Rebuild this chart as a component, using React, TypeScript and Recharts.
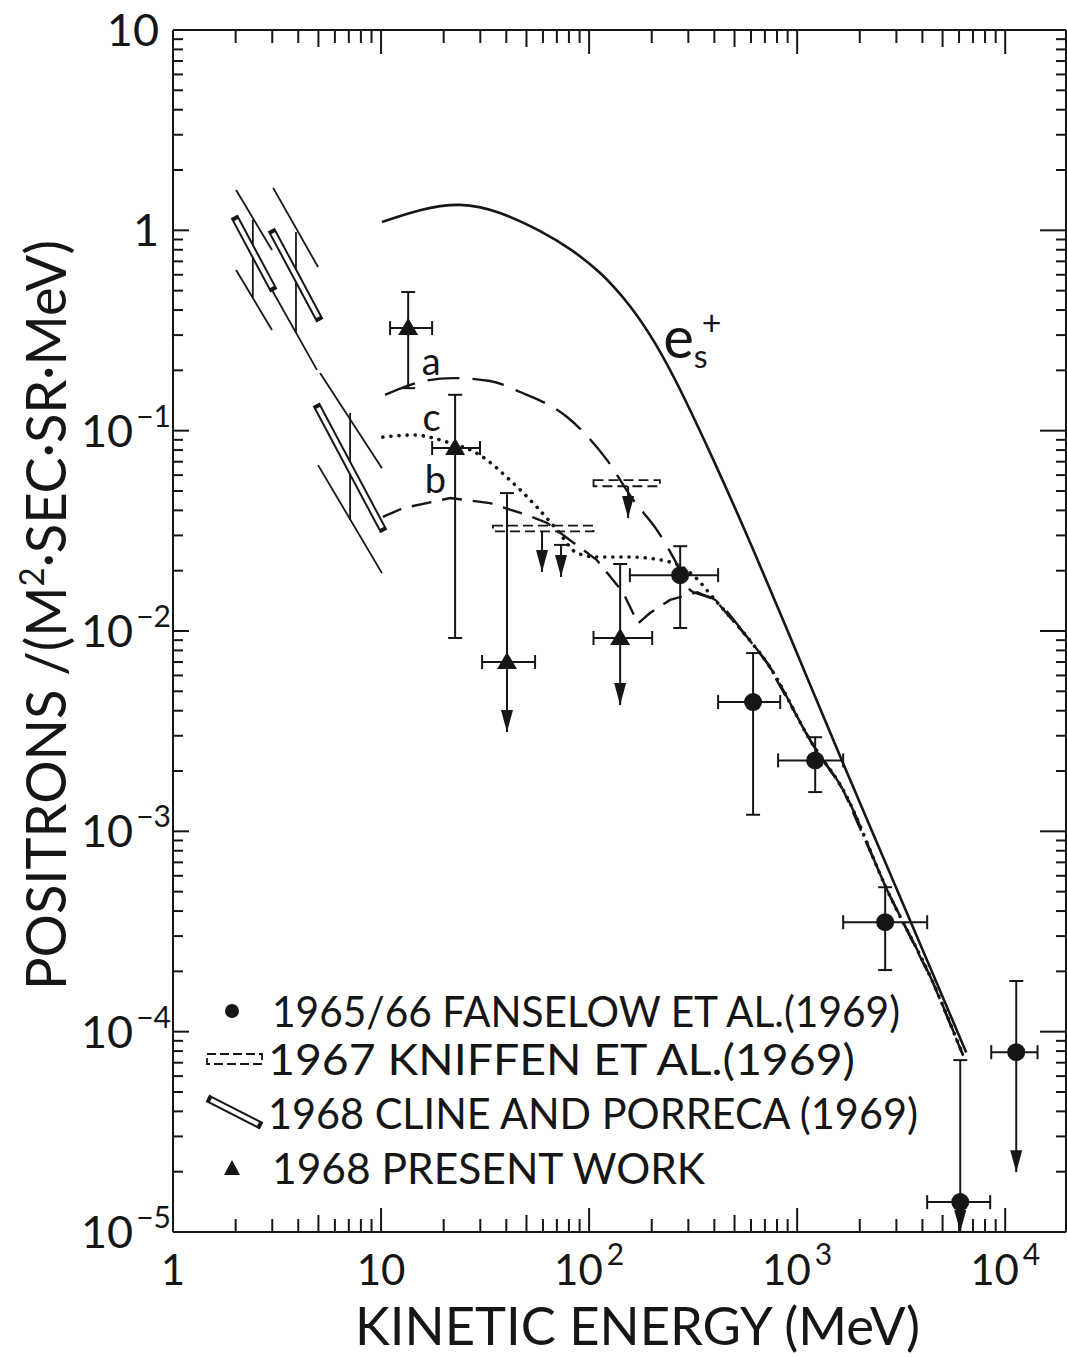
import React from "react";
import {
  ComposedChart,
  Line,
  Scatter,
  XAxis,
  YAxis,
  ErrorBar,
  ReferenceLine,
  ReferenceArea,
  ReferenceDot,
  Legend,
} from "recharts";

const FONT = "Lato, 'Open Sans', 'DejaVu Sans', sans-serif";
const INK = "#161616";

// ---- axes (MeV on x, positrons/(m2 s sr MeV) on y)
const xDecades = [1, 10, 100, 1000, 10000];
const yDecades = [1e-5, 1e-4, 1e-3, 1e-2, 1e-1, 1, 10];
const minorSteps = [2, 3, 4, 5, 6, 7, 8, 9];
const X_MAX = 19600;

// ---- e_s+ curve (solid)
const esE = [10.1, 15.4, 24, 37.3, 58.1, 81, 113, 157, 208, 274, 394, 575, 829, 1092, 1609, 2894, 4504, 6498];
const esF = [1.1, 1.26, 1.34, 1.22, 0.992, 0.806, 0.612, 0.419, 0.272, 0.16, 0.0721, 0.0299, 0.01227, 0.00619, 0.00237, 5.67e-4, 1.93e-4, 7.87e-5];

// common high-energy part of curves a, b, c
const tailE = [403, 575, 718, 1194, 1664, 2710, 4505, 6280];
const tailF = [0.0143, 0.00933, 0.00692, 0.00269, 0.00161, 5.08e-4, 1.75e-4, 7.6e-5];

// curve a (long dashes)
const aE = [10.45, 15.4, 22.2, 33.4, 46.6, 78.4, 122, 163, 212, 274, 306];
const aF = [0.151, 0.175, 0.183, 0.177, 0.156, 0.117, 0.0713, 0.0451, 0.0319, 0.0201, 0.016];

// curve b (dashes, with the dip)
const bE = [10.2, 12.8, 21.5, 33.4, 50.3, 62.9, 81, 109, 146, 172, 196, 245, 331];
const bF = [0.0371, 0.0411, 0.0461, 0.0435, 0.0379, 0.0346, 0.0284, 0.0226, 0.0155, 0.0109, 0.0123, 0.0143, 0.0156];

// curve c (dotted)
const cE = [10.2, 14.3, 20.8, 29.9, 41.7, 56.2, 70.2, 87.5, 109, 157, 245, 316];
const cF = [0.0929, 0.0951, 0.0877, 0.0755, 0.0566, 0.0415, 0.0319, 0.0245, 0.0234, 0.0234, 0.0221, 0.019];

// 1968 present work (triangles)
const triE = [13.5, 22.7, 40.3, 141];
const triF = [0.325, 0.0819, 0.007, 0.00923];
const triELo = [11.05, 17.6, 30.6, 105];
const triEHi = [17.6, 29.9, 55, 201];
const triFLo = [0.163, 0.00923, 0.00313, 0.00427];
const triFHi = [0.492, 0.151, 0.0488, 0.0216];
const triLimit = [false, false, true, true];

// 1965/66 Fanselow et al. (circles)
const fanE = [274, 614, 1221, 2649, 6080, 11300];
const fanF = [0.019, 0.00442, 0.00226, 3.52e-4, 1.41e-5, 7.9e-5];
const fanELo = [157, 417, 810, 1664, 4217, 8570];
const fanEHi = [417, 829, 1664, 4217, 8470, 14300];
const fanFLo = [0.01035, 0.00121, 0.00157, 2.03e-4, 1.0e-5, 1.99e-5];
const fanFHi = [0.0265, 0.00776, 0.00295, 5.26e-4, 7.21e-5, 1.79e-4];
const fanLimit = [false, false, false, false, true, true];

// 1967 Kniffen et al. (hollow dashed boxes + upper-limit arrows)
const knBoxELo = [34.5, 105];
const knBoxEHi = [105, 219];
const knBoxFLo = [0.0314, 0.0528];
const knBoxFHi = [0.0336, 0.0566];
const knArrowE = [59.4, 73.3, 154];
const knArrowFrom = [0.0316, 0.0269, 0.0528];
const knArrowTip = [0.0197, 0.0186, 0.0366];
const knArrowCap = [false, true, false];

// 1968 Cline and Porreca: [E1, F1, E2, F2]
const clineBands = [
  [2.01, 1.126, 2.99, 0.521],
  [3.03, 0.969, 4.98, 0.369],
  [4.98, 0.13, 10.1, 0.0327],
];
const clineUpper = [
  [2.01, 1.59, 2.99, 0.798],
  [3.03, 1.63, 4.98, 0.656],
  [5.09, 0.194, 10.1, 0.065],
];
const clineLower = [
  [2.01, 0.634, 2.99, 0.318],
  [2.99, 0.504, 4.92, 0.201],
  [4.98, 0.0673, 10.1, 0.01945],
];
const clineBars = [
  [2.42, 1.13, 0.464],
  [3.9, 0.98, 0.307],
  [7.1, 0.1225, 0.0358],
];

const legendLabels = [
  "1965/66 FANSELOW ET AL.(1969)",
  "1967 KNIFFEN ET AL.(1969)",
  "1968 CLINE AND PORRECA (1969)",
  "1968 PRESENT WORK",
];

const toPts = (xs: number[], ys: number[]) => xs.map((x, i) => ({ x, y: ys[i] }));

const xTicks = xDecades
  .flatMap((d) => [d, ...minorSteps.map((k) => d * k)])
  .filter((v) => v <= X_MAX);
const yTicks = yDecades.flatMap((d) => (d === 10 ? [d] : [d, ...minorSteps.map((k) => d * k)]));

function isDecade(v: number) {
  const l = Math.log10(v);
  return Math.abs(l - Math.round(l)) < 1e-6;
}
function lead(v: number) {
  return Math.round(v / Math.pow(10, Math.floor(Math.log10(v) + 1e-9)));
}

const txt = { fontFamily: FONT, fontWeight: 400, fill: INK } as const;

function BottomTick({ x, y, payload }: any) {
  const v = payload.value;
  const major = isDecade(v);
  const len = major ? 24 : lead(v) === 5 ? 17 : 13;
  const e = Math.round(Math.log10(v));
  return (
    <g>
      <line x1={x} x2={x} y1={y} y2={y - len} stroke={INK} strokeWidth={2} />
      {major && (
        <text x={x} y={y + 53} textAnchor="middle" fontSize={42} {...txt}>
          {e < 2 ? String(Math.round(v)) : (
            <>
              10<tspan dx={4} dy={-20} fontSize={30}>{e}</tspan>
            </>
          )}
        </text>
      )}
    </g>
  );
}

function TopTick({ x, y, payload }: any) {
  const v = payload.value;
  const len = isDecade(v) ? 24 : lead(v) === 5 ? 17 : 13;
  return <line x1={x} x2={x} y1={y} y2={y + len} stroke={INK} strokeWidth={2} />;
}

function LeftTick({ x, y, payload }: any) {
  const v = payload.value;
  const major = isDecade(v);
  const e = Math.round(Math.log10(v));
  return (
    <g>
      <line x1={x} x2={x + (major ? 16 : 10)} y1={y} y2={y} stroke={INK} strokeWidth={2} />
      {major && (
        <text x={x - (e < 0 ? 2 : 14)} y={y + 16} textAnchor="end" fontSize={45} {...txt}>
          {e === 1 ? "10" : e === 0 ? "1" : (
            <>
              10<tspan dx={3} dy={-20} fontSize={30}>{"\u2212" + -e}</tspan>
            </>
          )}
        </text>
      )}
    </g>
  );
}

function RightTick({ x, y, payload }: any) {
  const v = payload.value;
  const len = isDecade(v) ? 26 : 10;
  return <line x1={x} x2={x - len} y1={y} y2={y} stroke={INK} strokeWidth={2} />;
}

function XTitle({ viewBox }: any) {
  return (
    <text x={viewBox.x + 182} y={viewBox.y + 113} fontSize={52} textLength={565} lengthAdjust="spacingAndGlyphs" {...txt}>
      KINETIC ENERGY (MeV)
    </text>
  );
}

function YTitle({ viewBox }: any) {
  const cx = viewBox.x + 66;
  const cy = viewBox.y + 585;
  return (
    <text x={cx} y={cy} transform={`rotate(-90 ${cx} ${cy})`} textAnchor="middle" fontSize={56} textLength={750} lengthAdjust="spacingAndGlyphs" {...txt}>
      POSITRONS /(M<tspan dy={-22} fontSize={34}>2</tspan>
      <tspan dy={22}>{"\u00B7SEC\u00B7SR\u00B7MeV)"}</tspan>
    </text>
  );
}

function ChartKey() {
  const widths = [628, 587, 650, 433];
  const starts = [77, 73, 73, 77];
  const rows = [31, 79, 133, 188];
  return (
    <svg width={860} height={220} style={{ display: "block", overflow: "visible" }}>
      <circle cx={37} cy={rows[0]} r={7} fill={INK} />
      <rect x={12} y={rows[1] - 5} width={55} height={10} fill="none" stroke={INK} strokeWidth={1.8} strokeDasharray="9 4" />
      <line x1={16} y1={rows[2] - 13} x2={63} y2={rows[2] + 11} stroke={INK} strokeWidth={8} strokeLinecap="square" />
      <line x1={16} y1={rows[2] - 13} x2={63} y2={rows[2] + 11} stroke="#fff" strokeWidth={4} />
      <polygon points={`${29},${rows[3] + 7} ${45},${rows[3] + 7} ${37},${rows[3] - 8}`} fill={INK} />
      {legendLabels.map((t, i) => (
        <text key={t} x={starts[i]} y={rows[i] + 16} fontSize={43} textLength={widths[i]} lengthAdjust="spacingAndGlyphs" {...txt}>
          {t}
        </text>
      ))}
    </svg>
  );
}

const Dot = (p: any) => <circle cx={p.cx} cy={p.cy} r={9} fill={INK} />;
const Tri = (p: any) => (
  <polygon points={`${p.cx - 10},${p.cy + 7} ${p.cx + 10},${p.cy + 7} ${p.cx},${p.cy - 10}`} fill={INK} />
);
const ArrowHead = (p: any) => (
  <polygon points={`${p.cx - 6},${p.cy - 22} ${p.cx + 6},${p.cy - 22} ${p.cx},${p.cy}`} fill={INK} />
);
const Cap = (p: any) => (p.payload.cap ? <line x1={p.cx - 7} x2={p.cx + 7} y1={p.cy} y2={p.cy} stroke={INK} strokeWidth={2} /> : <g />);

function withErrors(E: number[], F: number[], eLo: number[], eHi: number[], fLo: number[], fHi: number[], lim: boolean[]) {
  return E.map((x, i) => ({
    x,
    y: F[i],
    ex: [x - eLo[i], eHi[i] - x],
    ey: [lim[i] ? 0 : F[i] - fLo[i], fHi[i] - F[i]],
  }));
}

export default function App() {
  const es = toPts(esE, esF);
  const tail = toPts(tailE, tailF);
  const curveA = [...toPts(aE, aF), ...tail];
  const curveB = [...toPts(bE, bF), ...tail];
  const curveC = [...toPts(cE, cF), ...tail];

  const tri = withErrors(triE, triF, triELo, triEHi, triFLo, triFHi, triLimit);
  const fan = withErrors(fanE, fanF, fanELo, fanEHi, fanFLo, fanFHi, fanLimit);

  const stems = [
    ...triE.map((x, i) => ({ x, from: triF[i], to: triFLo[i], lim: triLimit[i] })),
    ...fanE.map((x, i) => ({ x, from: fanF[i], to: fanFLo[i], lim: fanLimit[i] })),
    ...knArrowE.map((x, i) => ({ x, from: knArrowFrom[i], to: knArrowTip[i], lim: true })),
  ].filter((s) => s.lim);
  const heads = stems.map((s) => ({ x: s.x, y: s.to }));
  const caps = knArrowE.map((x, i) => ({ x, y: knArrowFrom[i], cap: knArrowCap[i] }));

  const lineProps = { dot: false, activeDot: false, isAnimationActive: false, stroke: INK, type: "monotone" as const };

  return (
    <div style={{ position: "absolute", left: 0, top: 0, width: 1067, height: 1357, background: "#fff" }}>
      <ComposedChart width={1067} height={1357} margin={{ top: 29, right: 0, bottom: 0, left: 0 }}>
        <XAxis
          dataKey="x"
          type="number"
          scale="log"
          domain={[1, X_MAX]}
          allowDataOverflow
          ticks={xTicks}
          interval={0}
          tickSize={0}
          tickMargin={0}
          tickLine={false}
          tick={<BottomTick />}
          axisLine={{ stroke: INK, strokeWidth: 2 }}
          height={125}
          label={{ content: (p: any) => <XTitle {...p} /> }}
        />
        <XAxis
          xAxisId="top"
          orientation="top"
          dataKey="x"
          type="number"
          scale="log"
          domain={[1, X_MAX]}
          allowDataOverflow
          ticks={xTicks}
          interval={0}
          tickSize={0}
          tickMargin={0}
          tickLine={false}
          tick={<TopTick />}
          axisLine={{ stroke: INK, strokeWidth: 2 }}
          height={1}
        />
        <YAxis
          dataKey="y"
          type="number"
          scale="log"
          domain={[1e-5, 10]}
          allowDataOverflow
          ticks={yTicks}
          interval={0}
          tickSize={0}
          tickMargin={0}
          tickLine={false}
          tick={<LeftTick />}
          axisLine={{ stroke: INK, strokeWidth: 2 }}
          width={173}
          label={{ content: (p: any) => <YTitle {...p} /> }}
        />
        <YAxis
          yAxisId="right"
          orientation="right"
          dataKey="y"
          type="number"
          scale="log"
          domain={[1e-5, 10]}
          allowDataOverflow
          ticks={yTicks}
          interval={0}
          tickSize={0}
          tickMargin={0}
          tickLine={false}
          tick={<RightTick />}
          axisLine={{ stroke: INK, strokeWidth: 2 }}
          width={1}
        />

        {/* Cline and Porreca */}
        {clineUpper.concat(clineLower).map((s, i) => (
          <ReferenceLine key={"cl" + i} segment={[{ x: s[0], y: s[1] }, { x: s[2], y: s[3] }]} stroke={INK} strokeWidth={1.8} />
        ))}
        {clineBars.map((s, i) => (
          <ReferenceLine key={"cb" + i} segment={[{ x: s[0], y: s[1] }, { x: s[0], y: s[2] }]} stroke={INK} strokeWidth={1.8} />
        ))}
        {clineBands.map((s, i) => (
          <ReferenceLine key={"bo" + i} segment={[{ x: s[0], y: s[1] }, { x: s[2], y: s[3] }]} stroke={INK} strokeWidth={8} strokeLinecap="square" />
        ))}
        {clineBands.map((s, i) => (
          <ReferenceLine key={"bi" + i} segment={[{ x: s[0], y: s[1] }, { x: s[2], y: s[3] }]} stroke="#fff" strokeWidth={4} />
        ))}

        {/* Kniffen boxes */}
        {knBoxELo.map((x1, i) => (
          <ReferenceArea key={"kb" + i} x1={x1} x2={knBoxEHi[i]} y1={knBoxFLo[i]} y2={knBoxFHi[i]} fill="none" fillOpacity={0} stroke={INK} strokeWidth={1.8} strokeDasharray="10 5" />
        ))}

        {/* upper-limit stems */}
        {stems.map((s, i) => (
          <ReferenceLine key={"st" + i} segment={[{ x: s.x, y: s.from }, { x: s.x, y: s.to }]} stroke={INK} strokeWidth={2} />
        ))}

        {/* model curves */}
        <Line data={es} dataKey="y" {...lineProps} type="natural" strokeWidth={2.6} />
        <Line data={curveA} dataKey="y" {...lineProps} strokeWidth={2.4} strokeDasharray="32 13" />
        <Line data={curveB} dataKey="y" {...lineProps} type="linear" strokeWidth={2.4} strokeDasharray="20 11" />
        <Line data={curveC} dataKey="y" {...lineProps} strokeWidth={3.6} strokeDasharray="0.1 8" strokeLinecap="round" />

        {/* data points */}
        <Scatter data={tri} shape={Tri} isAnimationActive={false}>
          <ErrorBar dataKey="ex" direction="x" width={7} stroke={INK} strokeWidth={2} />
          <ErrorBar dataKey="ey" direction="y" width={7} stroke={INK} strokeWidth={2} />
        </Scatter>
        <Scatter data={fan} shape={Dot} isAnimationActive={false}>
          <ErrorBar dataKey="ex" direction="x" width={7} stroke={INK} strokeWidth={2} />
          <ErrorBar dataKey="ey" direction="y" width={7} stroke={INK} strokeWidth={2} />
        </Scatter>
        <Scatter data={heads} shape={ArrowHead} isAnimationActive={false} />
        <Scatter data={caps} shape={Cap} isAnimationActive={false} />

        {/* curve labels */}
        <ReferenceDot x={15.7} y={0.19} r={0} shape={(p: any) => <text x={p.cx} y={p.cy} fontSize={38} {...txt}>a</text>} />
        <ReferenceDot x={15.8} y={0.0995} r={0} shape={(p: any) => <text x={p.cx} y={p.cy} fontSize={38} {...txt}>c</text>} />
        <ReferenceDot x={16.2} y={0.0488} r={0} shape={(p: any) => <text x={p.cx} y={p.cy} fontSize={38} {...txt}>b</text>} />
        <ReferenceDot
          x={227}
          y={0.2305}
          r={0}
          shape={(p: any) => (
            <text x={p.cx} y={p.cy} fontSize={58} {...txt}>
              e<tspan fontSize={32} dy={10}>s</tspan>
              <tspan fontSize={34} dx={-6} dy={-33}>+</tspan>
            </text>
          )}
        />

        <Legend
          layout="horizontal"
          verticalAlign="middle"
          align="center"
          content={() => <ChartKey />}
          wrapperStyle={{ position: "absolute", left: 195, top: 980, width: 860, height: 220 }}
        />
      </ComposedChart>
    </div>
  );
}
